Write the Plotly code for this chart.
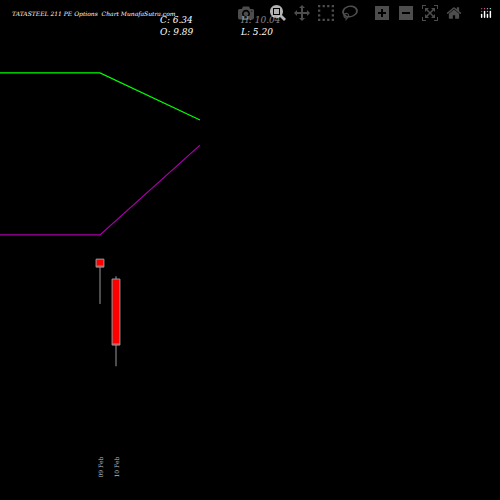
import plotly.graph_objects as go

# candle data
pos = [0, 1]
dates = ["09 Feb", "10 Feb"]
opens = [10.96, 9.89]
highs = [10.96, 10.04]
lows = [8.55, 5.20]
closes = [10.53, 6.34]

# moving lines
line_x = [-6.25, 0, 6.25]
green_line = [20.97, 20.97, 18.44]
purple_line = [12.26, 12.26, 17.09]

fig = go.Figure()
fig.add_trace(go.Scatter(x=line_x, y=green_line, mode="lines", line=dict(color="#00ff00", width=1.2)))
fig.add_trace(go.Scatter(x=line_x, y=purple_line, mode="lines", line=dict(color="#aa00aa", width=1.2)))
fig.add_trace(go.Candlestick(x=pos, open=opens, high=highs, low=lows, close=closes,
                             increasing=dict(line=dict(color="#999999", width=1), fillcolor="#ff0000"),
                             decreasing=dict(line=dict(color="#999999", width=1), fillcolor="#ff0000"),
                             whiskerwidth=0))

for p, d in zip(pos, dates):
    fig.add_annotation(x=p, y=0.04, yref="paper", text=d, textangle=-90, showarrow=False,
                       yanchor="bottom", font=dict(family="DejaVu Serif", size=6, color="#bbbbbb"))

tf = dict(family="DejaVu Serif", color="white")
fig.add_annotation(x=0.02, y=0.985, xref="paper", yref="paper", xanchor="left", showarrow=False,
                   text="<i>TATASTEEL 211 PE Options  Chart MunafaSutra.com</i>", font=dict(size=6, **tf))
fig.add_annotation(x=0.315, y=0.975, xref="paper", yref="paper", xanchor="left", showarrow=False,
                   text="<i>C: 6.34<br>O: 9.89</i>", align="left", font=dict(size=9, **tf))
fig.add_annotation(x=0.475, y=0.975, xref="paper", yref="paper", xanchor="left", showarrow=False,
                   text="<i>H: 10.04<br>L: 5.20</i>", align="left", font=dict(size=9, **tf))

fig.update_layout(width=500, height=500, margin=dict(l=0, r=0, t=0, b=0),
                  paper_bgcolor="black", plot_bgcolor="black", showlegend=False,
                  xaxis=dict(range=[-6.25, 25], visible=False, rangeslider=dict(visible=False)),
                  yaxis=dict(range=[-1.99, 24.89], visible=False))
fig.write_html("out.html", post_script="document.body.style.margin='0';document.body.style.background='black';")
